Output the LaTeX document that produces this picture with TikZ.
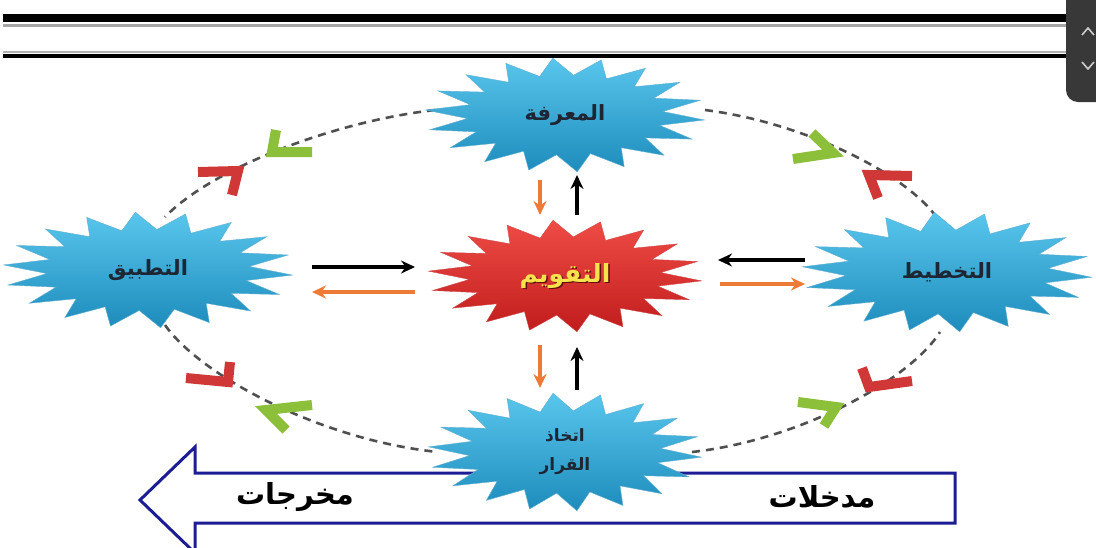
\documentclass[tikz,border=0pt]{standalone}
\usepackage{fontspec}
\usetikzlibrary{arrows.meta}
\TeXXeTstate=1
\newfontfamily\arabicfont[Script=Arabic]{DejaVu Sans}
\definecolor{cyanA}{HTML}{58C6EC}
\definecolor{cyanB}{HTML}{1E8CBC}
\definecolor{redA}{HTML}{F04C46}
\definecolor{redB}{HTML}{C01C1C}
\definecolor{orangeArr}{HTML}{EE7A38}
\definecolor{greenChev}{HTML}{8CBF3A}
\definecolor{redChev}{HTML}{D03838}
\definecolor{navyArr}{HTML}{1C1C94}
\definecolor{dashgray}{HTML}{505050}
\definecolor{labeldark}{HTML}{1E2634}
\definecolor{evalyellow}{HTML}{F6E24C}
\newcommand\burst[5]{\path[#5] plot[samples at={0,...,35}] ({#1+#3*(1-0.3*mod(\x,2))*cos(\x*10+5)},{#2+#4*(1-0.3*mod(\x,2))*sin(\x*10+5)}) -- cycle;}
\begin{document}
\begin{tikzpicture}[x=1pt,y=-1pt,
  bluestar/.style={top color=cyanA, bottom color=cyanB, draw=cyanB!70, line width=0.4},
  redstar/.style={top color=redA, bottom color=redB, draw=redB!80, line width=0.4},
  boxnode/.style={inner sep=0pt, outer sep=0pt},
  lbl/.style={font=\arabicfont\bfseries\fontsize{21}{24}\selectfont, text=labeldark, align=center},
  blackarr/.style={line width=3.6, black, -{Stealth[length=14pt,width=13pt]}},
  orangearr/.style={line width=3.6, orangeArr, -{Stealth[length=14pt,width=13pt]}},
  dashcurve/.style={dashgray, line width=2.6, dash pattern=on 8pt off 6pt},
  chevg/.style={greenChev, line width=10, line join=miter, line cap=butt},
  chevr/.style={redChev, line width=10, line join=miter, line cap=butt},
  bigtxt/.style={font=\arabicfont\bfseries\fontsize{29}{32}\selectfont, text=black}
]
\useasboundingbox (0,0) rectangle (1096,547);
\fill[white] (0,0) rectangle (1096,547);

% top rules
\draw[line width=8] (3,18) -- (1068,18);
\draw[gray!70, line width=2.5] (3,25.5) -- (1068,25.5);
\draw[gray!60, line width=1.5] (3,52) -- (1068,52);
\draw[line width=4.5] (3,56) -- (1068,56);

% scroll widget
\fill[black!78, rounded corners=12] (1066,-15) rectangle (1110,102);
\draw[black!20, line width=1.6] (1082,35) -- (1088,28) -- (1094,35);
\draw[black!20, line width=1.6] (1082,62) -- (1088,69) -- (1094,62);

% big arrow
\draw[navyArr, line width=3, fill=white, line join=miter] (955,473) -- (195,473) -- (195,447) -- (140,500) -- (195,553) -- (195,523) -- (955,523) -- cycle;
\node[bigtxt] (outp) at (295,497) {\beginR مخرجات\endR};
\node[bigtxt] (inp) at (822,497) {\beginR مدخلات\endR};

% node frames
\node[boxnode, minimum width=280pt, minimum height=114pt] (know) at (565,115) {};
\node[boxnode, minimum width=274pt, minimum height=112pt] (eval) at (565,276) {};
\node[boxnode, minimum width=274pt, minimum height=120pt] (decide) at (565,452) {};
\node[boxnode, minimum width=290pt, minimum height=116pt] (apply) at (148,270) {};
\node[boxnode, minimum width=290pt, minimum height=120pt] (plan) at (947,272) {};

% dashed curves
\draw[dashcurve] ([xshift=10pt,yshift=5pt]know.west) .. controls (330,122) and (210,170) .. ([xshift=17pt,yshift=-5pt]apply.north);
\draw[dashcurve] ([yshift=5pt]know.east) .. controls (800,122) and (900,170) .. ([xshift=-12pt,yshift=-3pt]plan.north);
\draw[dashcurve] ([xshift=17pt,yshift=3pt]apply.south) .. controls (200,375) and (320,440) .. ([xshift=10pt]decide.west);
\draw[dashcurve] ([xshift=-10pt]decide.east) .. controls (800,440) and (910,380) .. ([xshift=-7pt]plan.south);

% chevrons
\draw[chevg] (276,130) -- (272,152) -- (312,152);
\draw[chevr] (198,172) -- (238,171) -- (232,195);
\draw[chevg] (812,133) -- (833,153) -- (793,159);
\draw[chevr] (912,176) -- (869,175) -- (878,198);
\draw[chevr] (186,378) -- (228,382) -- (230,362);
\draw[chevg] (312,405) -- (266,410) -- (286,430);
\draw[chevr] (862,368) -- (869,387) -- (912,381);
\draw[chevg] (798,402) -- (836,407) -- (824,426);

% stars
\burst{565}{115}{140}{57}{bluestar}
\burst{148}{270}{145}{58}{bluestar}
\burst{947}{272}{145}{60}{bluestar}
\burst{565}{276}{137}{56}{redstar}
\burst{565}{452}{137}{59}{bluestar}

% labels
\node[lbl] (knowt) at (know.center) {\beginR المعرفة\endR};
\node[lbl] (applyt) at (apply.center) {\beginR التطبيق\endR};
\node[lbl] (plant) at (plan.center) {\beginR التخطيط\endR};
\node[lbl, font=\arabicfont\bfseries\fontsize{17}{29}\selectfont] (decidet) at (decide.center) {\beginR اتخاذ\endR\\\beginR القرار\endR};
\node[lbl, text=redB!50!black, font=\arabicfont\bfseries\fontsize{25}{28}\selectfont] (evalsh) at ([xshift=1.5pt,yshift=-1.5pt]eval.center) {\beginR التقويم\endR};
\node[lbl, text=evalyellow, font=\arabicfont\bfseries\fontsize{25}{28}\selectfont] (evalt) at (eval.center) {\beginR التقويم\endR};

% arrows between stars
\draw[orangearr] ([xshift=-25pt,yshift=-8pt]know.south) -- ([xshift=-25pt,yshift=5pt]eval.north);
\draw[blackarr] ([xshift=12pt,yshift=5pt]eval.north) -- ([xshift=12pt,yshift=-3pt]know.south);
\draw[orangearr] ([xshift=-25pt,yshift=-13pt]eval.south) -- ([xshift=-25pt,yshift=4pt]decide.north);
\draw[blackarr] ([xshift=12pt,yshift=2pt]decide.north) -- ([xshift=12pt,yshift=-15pt]eval.south);
\draw[blackarr] ([xshift=19pt,yshift=3pt]apply.east) -- ([xshift=-13pt,yshift=9pt]eval.west);
\draw[orangearr] ([xshift=-13pt,yshift=-16pt]eval.west) -- ([xshift=19pt,yshift=-22pt]apply.east);
\draw[blackarr] ([xshift=3pt,yshift=12pt]plan.west) -- ([xshift=16pt,yshift=16pt]eval.east);
\draw[orangearr] ([xshift=18pt,yshift=-8pt]eval.east) -- ([xshift=3pt,yshift=-12pt]plan.west);
\end{tikzpicture}
\end{document}
